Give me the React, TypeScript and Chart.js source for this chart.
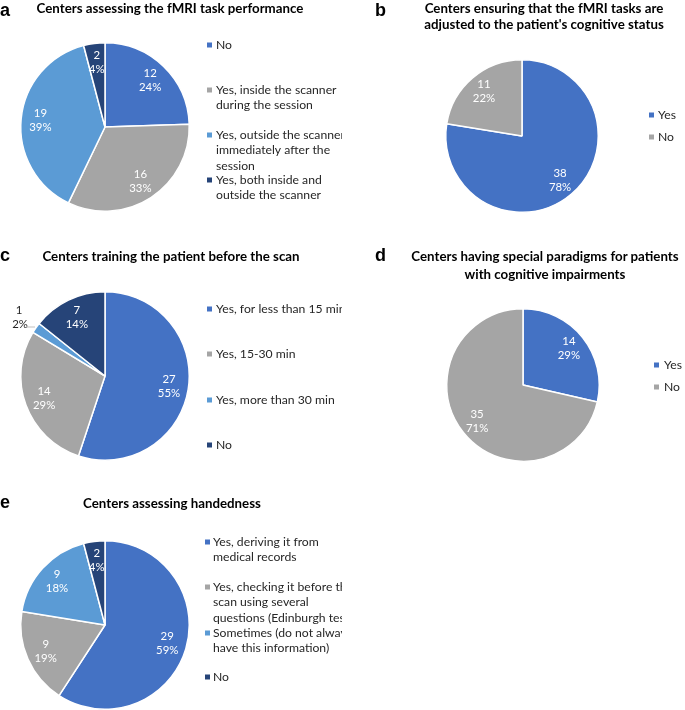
import React, { useEffect, useRef } from "react";
import { Chart, registerables } from "chart.js";

Chart.register(...registerables);

// ---------- DATA ----------
const BLUE = "#4472C4";
const GRAY = "#A5A5A5";
const LIGHT_BLUE = "#5B9BD5";
const NAVY = "#264478";

const taskPerfCategories = [
  ["No"],
  ["Yes, inside the scanner", "during the session"],
  ["Yes, outside the scanner", "immediately after the", "session"],
  ["Yes, both inside and", "outside the scanner"],
];
const taskPerfValues = [12, 16, 19, 2];
const taskPerfPercents = ["24%", "33%", "39%", "4%"];

const adjustedCategories = [["Yes"], ["No"]];
const adjustedValues = [38, 11];
const adjustedPercents = ["78%", "22%"];

const trainingCategories = [
  ["Yes, for less than 15 min"],
  ["Yes, 15-30 min"],
  ["Yes, more than 30 min"],
  ["No"],
];
const trainingValues = [27, 14, 1, 7];
const trainingPercents = ["55%", "29%", "2%", "14%"];

const paradigmCategories = [["Yes"], ["No"]];
const paradigmValues = [14, 35];
const paradigmPercents = ["29%", "71%"];

const handCategories = [
  ["Yes, deriving it from", "medical records"],
  ["Yes, checking it before the", "scan using several", "questions (Edinburgh test)"],
  ["Sometimes (do not always", "have this information)"],
  ["No"],
];
const handValues = [29, 9, 9, 2];
const handPercents = ["59%", "19%", "18%", "4%"];

// ---------- PANEL ----------
type PanelProps = {
  left: number;
  top: number;
  width: number;
  height: number;
  pieLeft: number;
  pieTop: number;
  pieSize: number;
  letter: string;
  letterX: number;
  letterY: number;
  title: string[];
  titleX: number;
  titleY: number;
  titleLH: number;
  categories: string[][];
  values: number[];
  percents: string[];
  colors: string[];
  sqX: number;
  textX: number;
  legendY: number[];
  outside?: { index: number; x: number; y: number; lx1: number; ly1: number; lx2: number; ly2: number };
};

const FONT = 'Lato, "Open Sans", sans-serif';

function Panel(p: PanelProps) {
  const ref = useRef<HTMLCanvasElement | null>(null);
  useEffect(() => {
    if (!ref.current) return;
    const overlay = {
      id: "overlay" + p.letter,
      afterDraw(chart: any) {
        const ctx = chart.ctx as CanvasRenderingContext2D;
        ctx.save();
        // legend
        ctx.font = `12.2px ${FONT}`;
        ctx.textAlign = "left";
        ctx.textBaseline = "middle";
        p.categories.forEach((lines, i) => {
          const y0 = p.legendY[i];
          ctx.fillStyle = p.colors[i];
          ctx.fillRect(p.sqX, y0 - 2.5, 5, 5);
          ctx.fillStyle = "#262626";
          lines.forEach((l, j) => ctx.fillText(l, p.textX, y0 + j * 15.5));
        });
        // data labels
        const meta = chart.getDatasetMeta(0);
        ctx.font = `11.4px ${FONT}`;
        ctx.textAlign = "center";
        meta.data.forEach((arc: any, i: number) => {
          const pr = arc.getProps(["x", "y", "startAngle", "endAngle", "outerRadius"], true);
          const v = String(p.values[i]);
          const pc = p.percents[i];
          if (p.outside && p.outside.index === i) {
            const o = p.outside;
            ctx.fillStyle = "#262626";
            ctx.fillText(v, o.x, o.y);
            ctx.fillText(pc, o.x + 1, o.y + 14);
            ctx.strokeStyle = "#BFBFBF";
            ctx.lineWidth = 1;
            ctx.beginPath();
            ctx.moveTo(o.lx1, o.ly1);
            ctx.lineTo(o.lx2, o.ly2);
            ctx.stroke();
            return;
          }
          const mid = (pr.startAngle + pr.endAngle) / 2;
          const r = pr.outerRadius * 0.77;
          const cx = pr.x + Math.cos(mid) * r;
          const cy = pr.y + Math.sin(mid) * r;
          ctx.fillStyle = "#FFFFFF";
          ctx.fillText(v, cx, cy - 7);
          ctx.fillText(pc, cx, cy + 7);
        });
        ctx.restore();
      },
    };
    const chart = new Chart(ref.current, {
      type: "pie",
      data: {
        labels: p.categories.map((c) => c.join(" ")),
        datasets: [
          {
            data: p.values,
            backgroundColor: p.colors,
            borderColor: "#FFFFFF",
            borderWidth: 1.5,
          },
        ],
      },
      options: {
        animation: false,
        responsive: false,
        maintainAspectRatio: false,
        layout: {
          padding: {
            left: p.pieLeft,
            top: p.pieTop,
            right: p.width - p.pieLeft - p.pieSize,
            bottom: p.height - p.pieTop - p.pieSize,
          },
        },
        plugins: {
          legend: { display: false },
          title: { display: false },
          tooltip: { enabled: false },
        },
      },
      plugins: [overlay],
    } as any);
    return () => chart.destroy();
  }, []);
  return (
    <div style={{ position: "absolute", left: p.left, top: p.top, width: p.width, height: p.height }}>
      <canvas
        ref={ref}
        width={p.width}
        height={p.height}
        style={{ position: "absolute", left: 0, top: 0, width: p.width, height: p.height }}
      />
      <div
        style={{
          position: "absolute",
          left: p.letterX,
          top: p.letterY - 16,
          font: 'bold 18px "Liberation Sans", Arial, sans-serif',
          lineHeight: "20px",
          color: "#000",
        }}
      >
        {p.letter}
      </div>
      <div
        style={{
          position: "absolute",
          left: p.titleX - 200,
          width: 400,
          top: p.titleY - p.titleLH / 2,
          textAlign: "center",
          font: `bold 13.3px ${FONT}`,
          lineHeight: `${p.titleLH}px`,
          color: "#000",
          whiteSpace: "nowrap",
        }}
      >
        {p.title.map((t, i) => (
          <div key={i}>{t}</div>
        ))}
      </div>
    </div>
  );
}

export default function App() {
  return (
    <div style={{ position: "absolute", left: 0, top: 0, width: 685, height: 710, background: "#fff", overflow: "hidden" }}>
      <Panel
        left={0} top={0} width={342} height={235}
        pieLeft={20} pieTop={42} pieSize={170}
        letter="a" letterX={0} letterY={16}
        title={["Centers assessing the fMRI task performance"]} titleX={170} titleY={8} titleLH={16}
        categories={taskPerfCategories} values={taskPerfValues} percents={taskPerfPercents}
        colors={[BLUE, GRAY, LIGHT_BLUE, NAVY]}
        sqX={207} textX={216} legendY={[45, 90, 135, 180]}
      />
      <Panel
        left={342} top={0} width={343} height={235}
        pieLeft={103} pieTop={59} pieSize={154}
        letter="b" letterX={33} letterY={16}
        title={["Centers ensuring that the fMRI tasks are", "adjusted to the patient's cognitive status"]}
        titleX={202} titleY={8} titleLH={16}
        categories={adjustedCategories} values={adjustedValues} percents={adjustedPercents}
        colors={[BLUE, GRAY]}
        sqX={307} textX={316} legendY={[115, 137]}
      />
      <Panel
        left={0} top={235} width={342} height={235}
        pieLeft={20} pieTop={56} pieSize={170}
        letter="c" letterX={0} letterY={26}
        title={["Centers training the patient before the scan"]} titleX={171} titleY={21} titleLH={16}
        categories={trainingCategories} values={trainingValues} percents={trainingPercents}
        colors={[BLUE, GRAY, LIGHT_BLUE, NAVY]}
        sqX={207} textX={216} legendY={[74, 119, 165, 210]}
        outside={{ index: 2, x: 19, y: 75, lx1: 26, ly1: 92, lx2: 35, ly2: 92 }}
      />
      <Panel
        left={342} top={235} width={343} height={235}
        pieLeft={104} pieTop={73} pieSize={154}
        letter="d" letterX={33} letterY={26}
        title={["Centers having special paradigms for patients", "with cognitive impairments"]}
        titleX={203} titleY={21} titleLH={18}
        categories={paradigmCategories} values={paradigmValues} percents={paradigmPercents}
        colors={[BLUE, GRAY]}
        sqX={312} textX={322} legendY={[130, 152]}
      />
      <Panel
        left={0} top={470} width={342} height={240}
        pieLeft={20} pieTop={70} pieSize={170}
        letter="e" letterX={0} letterY={38}
        title={["Centers assessing handedness"]} titleX={172} titleY={33} titleLH={16}
        categories={handCategories} values={handValues} percents={handPercents}
        colors={[BLUE, GRAY, LIGHT_BLUE, NAVY]}
        sqX={205} textX={213} legendY={[72, 117, 163, 207]}
      />
    </div>
  );
}
